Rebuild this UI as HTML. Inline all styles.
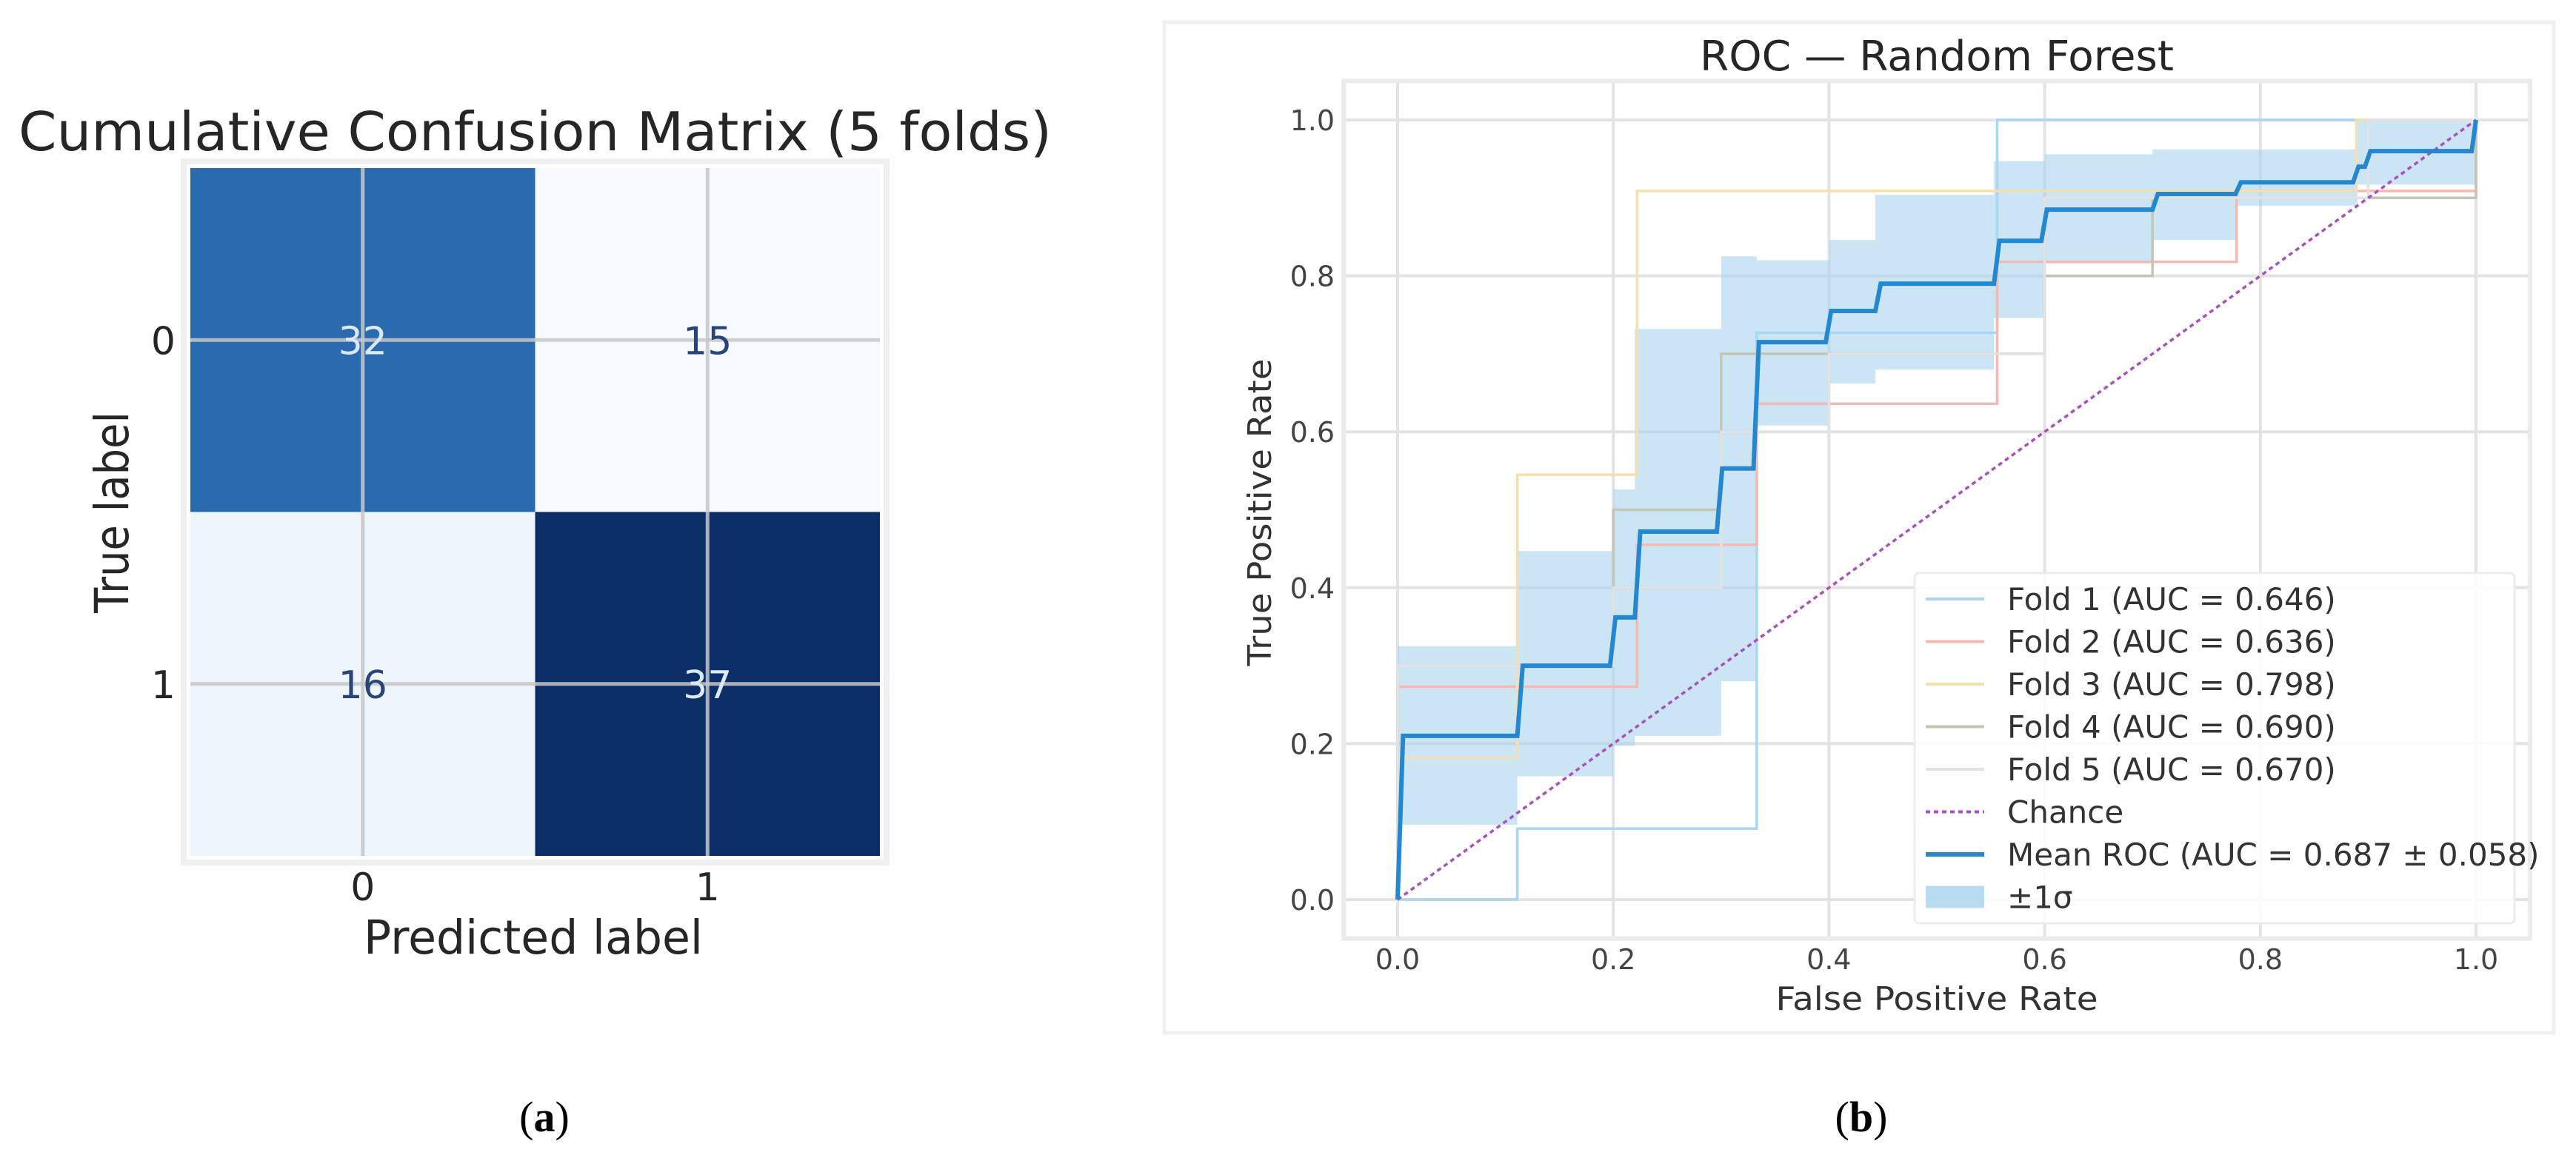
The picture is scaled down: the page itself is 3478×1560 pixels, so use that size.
<!DOCTYPE html>
<html><head><meta charset="utf-8"><style>
html,body{margin:0;padding:0;background:#fff;}
svg{display:block;font-family:"DejaVu Sans","Liberation Sans",sans-serif;}
</style></head><body>
<svg id="fig" width="3478" height="1560" viewBox="0 0 3478 1560" xmlns="http://www.w3.org/2000/svg">
<g id="cm"></g>
<g id="roc"></g>
<text x="735" y="1528" font-family="Liberation Serif,serif" font-size="58" text-anchor="middle" fill="#000">(<tspan font-weight="bold">a</tspan>)</text>
<text x="2513" y="1528" font-family="Liberation Serif,serif" font-size="58" text-anchor="middle" fill="#000">(<tspan font-weight="bold">b</tspan>)</text>
</svg>
<script>
const NS="http://www.w3.org/2000/svg";
// ---- confusion matrix data ----
const cmClasses=["0","1"];
const cmValues=[[32,15],[16,37]];
// ---- ROC data ----
const rocTicks=[0,0.2,0.4,0.6,0.8,1.0];
const rocTickLabels=["0.0","0.2","0.4","0.6","0.8","1.0"];
const fold1Fpr=[0,0.111,0.111,0.333,0.333,0.556,0.556,1];
const fold1Tpr=[0,0,0.091,0.091,0.727,0.727,1,1];
const fold2Fpr=[0,0,0.222,0.222,0.333,0.333,0.556,0.556,0.778,0.778,1,1];
const fold2Tpr=[0,0.273,0.273,0.455,0.455,0.636,0.636,0.818,0.818,0.909,0.909,1];
const fold3Fpr=[0,0,0.111,0.111,0.222,0.222,0.889,0.889,1];
const fold3Tpr=[0,0.182,0.182,0.545,0.545,0.909,0.909,1,1];
const fold4Fpr=[0,0,0.2,0.2,0.3,0.3,0.6,0.6,0.7,0.7,1,1];
const fold4Tpr=[0,0.3,0.3,0.5,0.5,0.7,0.7,0.8,0.8,0.9,0.9,1];
const fold5Fpr=[0,0,0.2,0.2,0.3,0.3,0.4,0.4,0.6,0.6,0.9,0.9,1];
const fold5Tpr=[0,0.3,0.3,0.4,0.4,0.6,0.6,0.7,0.7,0.9,0.9,1,1];
const meanFpr=[0,0.005,0.111,0.116,0.197,0.202,0.22,0.225,0.296,0.301,0.33,0.335,0.397,0.402,0.443,0.448,0.553,0.558,0.597,0.602,0.7,0.705,0.777,0.782,0.886,0.891,0.897,0.902,0.996,1];
const meanTpr=[0,0.21,0.21,0.30,0.30,0.362,0.362,0.472,0.472,0.553,0.553,0.715,0.715,0.755,0.755,0.79,0.79,0.845,0.845,0.885,0.885,0.905,0.905,0.92,0.92,0.94,0.94,0.96,0.96,1];
const bandEdges=[0,0.111,0.2,0.22,0.3,0.333,0.4,0.443,0.553,0.6,0.7,0.777,0.89,1];
const bandUpper=[0.325,0.447,0.526,0.732,0.825,0.82,0.846,0.904,0.947,0.956,0.962,0.962,1.0];
const bandLower=[0.096,0.158,0.197,0.21,0.28,0.608,0.662,0.68,0.746,0.816,0.846,0.89,0.917];
const foldLabels=["Fold 1 (AUC = 0.646)","Fold 2 (AUC = 0.636)","Fold 3 (AUC = 0.798)","Fold 4 (AUC = 0.690)","Fold 5 (AUC = 0.670)"];

function mk(parent,tag,attrs,text){const e=document.createElementNS(NS,tag);for(const k in attrs)e.setAttribute(k,attrs[k]);if(text!==undefined)e.textContent=text;parent.appendChild(e);return e;}

// ===== Confusion matrix =====
const cm=document.getElementById('cm');
const cmL=257,cmR=1188,cmT=227,cmB=1156;
const cw=(cmR-cmL)/2,ch=(cmB-cmT)/2;
function cmColor(v){const t=(v-15)/(37-15);
 const stops=[[0,[246,250,255]],[0.05,[238,245,252]],[0.77,[42,108,176]],[1,[12,46,103]]];
 for(let i=1;i<stops.length;i++){if(t<=stops[i][0]){const a=stops[i-1],b=stops[i];const f=(t-a[0])/(b[0]-a[0]);return "rgb("+a[1].map((x,j)=>Math.round(x+(b[1][j]-x)*f)).join(",")+")";}}
 return "rgb(12,46,103)";}
let fr=mk(cm,'rect',{x:cmL-9,y:cmT-9,width:cmR-cmL+18,height:cmB-cmT+18,fill:"none",stroke:"#f0f0f0","stroke-width":8});


for(let r=0;r<2;r++)for(let c=0;c<2;c++){
 const v=cmValues[r][c];
 const e=mk(cm,'rect',{x:cmL+c*cw,y:cmT+r*ch,width:cw,height:ch,fill:cmColor(v)});
 
 
}
for(let i=0;i<2;i++){
 const gx=cmL+cw*(i+0.5),gy=cmT+ch*(i+0.5);
 let g1=mk(cm,'line',{x1:gx,y1:cmT,x2:gx,y2:cmB,stroke:"#c8c8c8","stroke-width":5,opacity:0.85});
 
 
 let g2=mk(cm,'line',{x1:cmL,y1:gy,x2:cmR,y2:gy,stroke:"#c8c8c8","stroke-width":5,opacity:0.85});
 
 
}
const cmMax=37;
for(let r=0;r<2;r++)for(let c=0;c<2;c++){
 const v=cmValues[r][c];
 const t=mk(cm,'text',{x:cmL+cw*(c+0.5),y:cmT+ch*(r+0.5)+19,"font-size":52,"text-anchor":"middle",fill:v>cmMax/2?"#dbe9f6":"#27457a"},String(v));
 
 
}
for(let i=0;i<2;i++){
 let a=mk(cm,'text',{x:237,y:cmT+ch*(i+0.5)+19,"font-size":52,"text-anchor":"end",fill:"#262626"},cmClasses[i]);
 
 
 let b=mk(cm,'text',{x:cmL+cw*(i+0.5),y:1216,"font-size":52,"text-anchor":"middle",fill:"#262626"},cmClasses[i]);
 
 
}
let t1=mk(cm,'text',{x:25,y:203,"font-size":72,fill:"#262626",textLength:1395,lengthAdjust:"spacingAndGlyphs"},"Cumulative Confusion Matrix (5 folds)");


let t2=mk(cm,'text',{x:720,y:1288,"font-size":63,"text-anchor":"middle",fill:"#262626",textLength:458,lengthAdjust:"spacingAndGlyphs"},"Predicted label");


let t3=mk(cm,'text',{x:0,y:0,"font-size":63,"text-anchor":"middle",fill:"#262626",textLength:272,lengthAdjust:"spacingAndGlyphs",transform:"translate(173,692) rotate(-90)"},"True label");



// ===== ROC =====
const roc=document.getElementById('roc');
const X=f=>1887+f*1456, Y=t=>1215-t*1053;
let pb=mk(roc,'rect',{x:1572,y:30,width:1876,height:1365,fill:"#fff",stroke:"#f0f0f0","stroke-width":5});


const axL=X(-0.05),axR=X(1.05),axT=Y(1.05),axB=Y(-0.05);
rocTicks.forEach((v,i)=>{
 let gx=mk(roc,'line',{x1:X(v),y1:axT,x2:X(v),y2:axB,stroke:"#e3e3e3","stroke-width":4});
 
 
 let gy=mk(roc,'line',{x1:axL,y1:Y(v),x2:axR,y2:Y(v),stroke:"#e3e3e3","stroke-width":4});
 
 
 let lx=mk(roc,'text',{x:X(v),y:1309,"font-size":38,"text-anchor":"middle",fill:"#444"},rocTickLabels[i]);
 
 
 let ly=mk(roc,'text',{x:1802,y:Y(v)+14,"font-size":38,"text-anchor":"end",fill:"#444"},rocTickLabels[i]);
 
 
});
let af=mk(roc,'rect',{x:axL,y:axT,width:axR-axL,height:axB-axT,fill:"none",stroke:"#ebebeb","stroke-width":6});


let bp="";
for(let i=0;i<bandUpper.length;i++){bp+=(i?"L":"M")+X(bandEdges[i])+","+Y(bandUpper[i])+"L"+X(bandEdges[i+1])+","+Y(bandUpper[i]);}
for(let i=bandLower.length-1;i>=0;i--){bp+="L"+X(bandEdges[i+1])+","+Y(bandLower[i])+"L"+X(bandEdges[i])+","+Y(bandLower[i]);}
bp+="Z";
let band=mk(roc,'path',{d:bp,fill:"#a8d3ee",opacity:0.6});


const folds=[[fold1Fpr,fold1Tpr,"#a9d6f0"],[fold2Fpr,fold2Tpr,"#f6b9b2"],[fold3Fpr,fold3Tpr,"#f4dfae"],[fold4Fpr,fold4Tpr,"#c3c6b6"],[fold5Fpr,fold5Tpr,"#e2e2e2"]];
folds.forEach((f,k)=>{
 const p=mk(roc,'polyline',{points:f[0].map((x,i)=>X(x)+","+Y(f[1][i])).join(" "),fill:"none",stroke:f[2],"stroke-width":3.5});
 
 
});
let ch2=mk(roc,'line',{x1:X(0),y1:Y(0),x2:X(1),y2:Y(1),stroke:"#a94fc0","stroke-width":3.5,"stroke-dasharray":"6,5"});


let mean=mk(roc,'polyline',{points:meanFpr.map((x,i)=>X(x)+","+Y(meanTpr[i])).join(" "),fill:"none",stroke:"#2388cf","stroke-width":6});


let tt=mk(roc,'text',{x:2615,y:95,"font-size":56,"text-anchor":"middle",fill:"#262626",textLength:640,lengthAdjust:"spacingAndGlyphs"},"ROC — Random Forest");


let xt=mk(roc,'text',{x:2615,y:1364,"font-size":44,"text-anchor":"middle",fill:"#333",textLength:435,lengthAdjust:"spacingAndGlyphs"},"False Positive Rate");


let yt=mk(roc,'text',{x:0,y:0,"font-size":44,"text-anchor":"middle",fill:"#333",textLength:415,lengthAdjust:"spacingAndGlyphs",transform:"translate(1716,692) rotate(-90)"},"True Positive Rate");


const lg=mk(roc,'g',{});


let lb=mk(lg,'rect',{x:2585,y:774,width:810,height:473,fill:"#fff","fill-opacity":0.85,stroke:"#ececec","stroke-width":3,rx:6});


const entries=foldLabels.map((l,k)=>[l,folds[k][2],"line"]).concat([["Chance","#a94fc0","dash"],["Mean ROC (AUC = 0.687 ± 0.058)","#2388cf","mean"],["±1σ","#a8d3ee","patch"]]);
entries.forEach((e,i)=>{
 const cy=809+i*57.5;
 let h;
 if(e[2]==="patch") h=mk(lg,'rect',{x:2600,y:cy-15,width:79,height:30,fill:e[1],opacity:0.8});
 else h=mk(lg,'line',{x1:2600,y1:cy,x2:2679,y2:cy,stroke:e[1],"stroke-width":e[2]==="mean"?6:4,"stroke-dasharray":e[2]==="dash"?"6,5":"none"});
 
 
 let t=mk(lg,'text',{x:2710,y:cy+15,"font-size":42,fill:"#333"},e[0]);
 
 
});
</script>
</body></html>
